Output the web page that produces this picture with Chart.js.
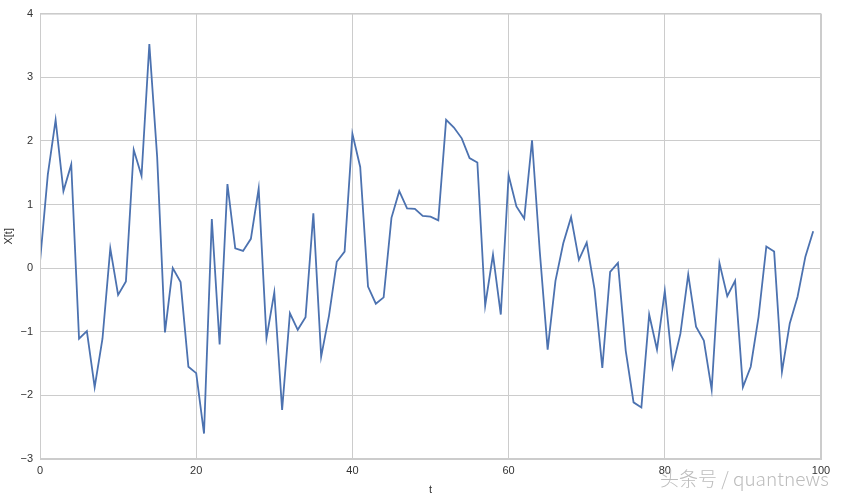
<!DOCTYPE html>
<html><head><meta charset="utf-8">
<script src="https://cdn.jsdelivr.net/npm/chart.js@4"></script>
<style>
html,body{margin:0;padding:0;background:#fff;}
#wrap{position:relative;width:846px;height:497px;}
#wm{position:absolute;left:660px;top:465px;font-family:"Noto Sans CJK SC","Liberation Sans",sans-serif;font-weight:300;font-size:19px;line-height:26px;color:#bdbdbd;white-space:nowrap;}
</style></head>
<body>
<div id="wrap"><canvas id="c" width="846" height="497"></canvas><div id="wm">头条号 / quantnews</div></div>
<script>
const tValues = Array.from({length:100},(_,i)=>i);
const xValues = [0.10,1.47,2.33,1.21,1.63,-1.11,-0.99,-1.87,-1.11,0.31,
-0.42,-0.21,1.86,1.45,3.52,1.75,-1.01,0.00,-0.22,-1.55,
-1.65,-2.60,0.77,-1.20,1.32,0.31,0.27,0.46,1.25,-1.10,
-0.38,-2.23,-0.71,-0.97,-0.77,0.86,-1.39,-0.75,0.10,0.26,
2.11,1.59,-0.29,-0.56,-0.46,0.79,1.21,0.94,0.93,0.82,
0.81,0.75,2.33,2.21,2.04,1.73,1.66,-0.59,0.21,-0.73,
1.46,0.97,0.78,2.01,0.25,-1.28,-0.20,0.39,0.80,0.13,
0.40,-0.33,-1.57,-0.06,0.08,-1.30,-2.11,-2.19,-0.73,-1.28,
-0.36,-1.55,-1.03,-0.10,-0.92,-1.14,-1.91,0.08,-0.44,-0.20,
-1.87,-1.55,-0.77,0.34,0.26,-1.63,-0.87,-0.45,0.18,0.58];
const xTickStep = 20, xMin = 0, xMax = 100;
const yTickStep = 1, yMin = -3, yMax = 4;
const xTitle = 't', yTitle = 'X[t]';

const pts = tValues.map((t,i)=>({x:t,y:xValues[i]}));
const fmt = v => String(v).replace('-', '\u2212');
new Chart(document.getElementById('c'), {
  type:'line',
  data:{datasets:[{data:pts,borderColor:'#4c72b0',borderWidth:1.8,pointRadius:0,tension:0,fill:false}]},
  options:{
    responsive:false,animation:false,
    layout:{padding:{left:2,top:12,right:25,bottom:0}},
    plugins:{legend:{display:false},tooltip:{enabled:false}},
    scales:{
      x:{type:'linear',min:xMin,max:xMax,
        ticks:{stepSize:xTickStep,color:'#333',font:{family:'Liberation Sans',size:11},padding:5,callback:fmt,maxRotation:0},
        grid:{color:'#cccccc',lineWidth:1,drawTicks:false},
        border:{color:'#cccccc'},
        title:{display:true,text:xTitle,color:'#333',font:{family:'Liberation Sans',size:11},padding:{top:3,bottom:0}},
        afterFit:s=>{s.height=38;}},
      y:{min:yMin,max:yMax,
        ticks:{stepSize:yTickStep,color:'#333',font:{family:'Liberation Sans',size:11},padding:7,callback:fmt},
        grid:{color:'#cccccc',lineWidth:1,drawTicks:false},
        border:{color:'#cccccc'},
        title:{display:true,text:yTitle,color:'#333',font:{family:'Liberation Sans',size:11},padding:{top:0,bottom:4}},
        afterFit:s=>{s.width=38;}}
    }
  },
  plugins:[{id:'frame',afterDraw(c){const a=c.chartArea,g=c.ctx;g.save();g.strokeStyle='#cccccc';g.lineWidth=1;g.strokeRect(a.left+0.5,a.top+0.5,a.right-a.left-1,a.bottom-a.top-1);g.restore();}}]
});
</script></body></html>
